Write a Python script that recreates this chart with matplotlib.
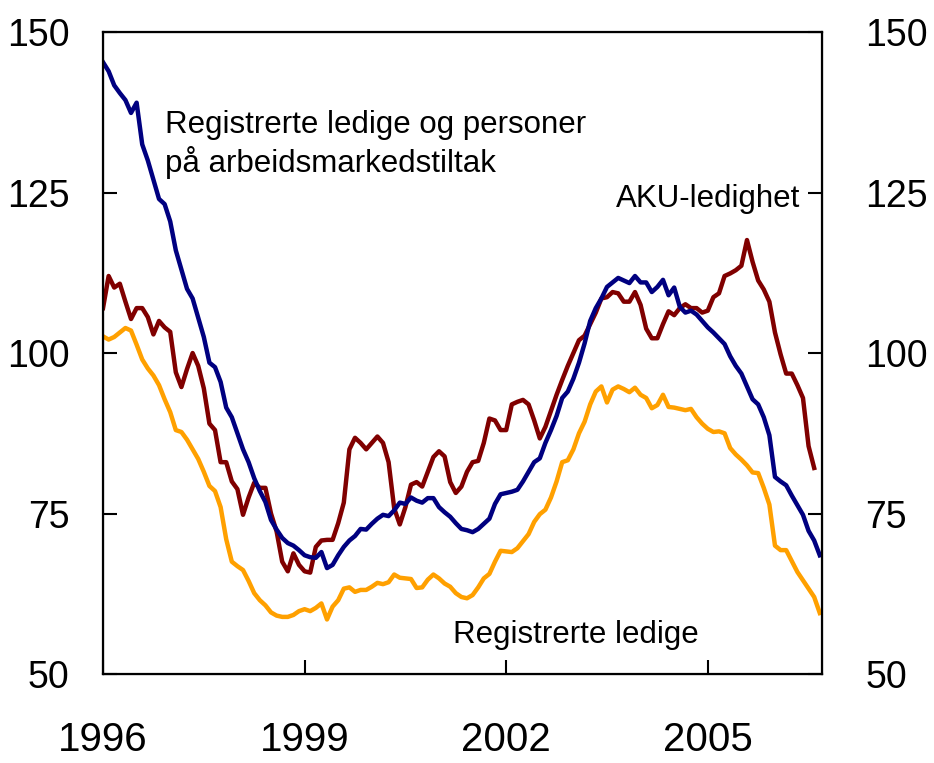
import matplotlib.pyplot as plt
import numpy as np

plt.rcParams['font.family'] = ['Liberation Sans', 'DejaVu Sans']

# monthly index values, Jan 1996 onwards
tiltak = [145.3, 143.9, 141.7, 140.5, 139.4, 137.4, 139.0, 132.5, 130.0, 127.0,
          124.0, 123.2, 120.5, 116.0, 113.0, 110.0, 108.5, 105.5, 102.5, 98.5,
          97.8, 95.5, 91.5, 90.0, 87.5, 85.0, 83.0, 80.5, 78.5, 76.8,
          74.0, 72.5, 71.2, 70.4, 70.0, 69.3, 68.5, 68.2, 68.1, 69.0,
          66.5, 67.0, 68.5, 69.8, 70.8, 71.5, 72.6, 72.5, 73.4, 74.2,
          74.8, 74.6, 75.5, 76.7, 76.5, 77.5, 77.0, 76.7, 77.4, 77.4,
          76.0, 75.2, 74.5, 73.5, 72.6, 72.4, 72.1, 72.6, 73.4, 74.2,
          76.5, 78.0, 78.2, 78.4, 78.7, 80.0, 81.5, 83.0, 83.6, 86.0,
          88.0, 90.2, 93.0, 94.0, 96.0, 98.5, 101.5, 105.0, 107.0, 108.5,
          110.3, 111.0, 111.7, 111.3, 110.9, 112.0, 111.0, 111.0, 109.5, 110.3,
          111.4, 109.0, 110.2, 107.2, 106.3, 106.6, 106.0, 105.0, 104.0, 103.2,
          102.3, 101.4, 99.5, 98.0, 96.8, 94.8, 92.8, 92.0, 90.0, 87.2,
          80.7, 80.0, 79.4, 77.8, 76.3, 74.8, 72.3, 70.8, 68.5]

aku = [107.0, 112.0, 110.2, 110.8, 108.0, 105.3, 107.0, 107.0, 105.6, 102.9,
       105.0, 104.0, 103.3, 97.0, 94.7, 97.5, 100.0, 98.0, 94.5, 89.0,
       88.0, 83.0, 83.0, 80.0, 78.8, 74.8, 77.5, 79.8, 79.0, 79.0,
       75.0, 72.2, 67.5, 66.0, 68.8, 67.0, 66.0, 65.8, 69.8, 70.8,
       70.9, 70.9, 73.5, 76.7, 85.0, 86.8, 86.0, 85.0, 86.0, 87.0,
       86.0, 83.0, 75.8, 73.3, 76.0, 79.5, 79.9, 79.2, 81.5, 83.8,
       84.7, 83.9, 79.9, 78.2, 79.2, 81.5, 83.0, 83.2, 86.0, 89.8,
       89.5, 88.0, 88.0, 92.0, 92.4, 92.7, 92.0, 89.5, 86.7, 88.5,
       91.0, 93.5, 95.8, 98.0, 100.0, 102.0, 102.7, 104.5, 106.3, 108.5,
       108.7, 109.5, 109.3, 108.0, 108.0, 109.5, 107.5, 103.8, 102.3, 102.3,
       104.5, 106.5, 105.9, 107.0, 107.6, 107.0, 107.0, 106.3, 106.6, 108.7,
       109.3, 112.0, 112.4, 112.9, 113.6, 117.6, 114.2, 111.3, 109.9, 108.0,
       103.2, 99.8, 96.8, 96.8, 95.0, 93.0, 85.5, 82.1]

ledige = [102.6, 102.1, 102.5, 103.2, 103.9, 103.5, 101.3, 99.0, 97.6, 96.5,
          95.0, 92.8, 90.8, 88.0, 87.7, 86.5, 85.0, 83.5, 81.5, 79.3,
          78.5, 76.0, 71.0, 67.5, 66.8, 66.2, 64.5, 62.6, 61.5, 60.7,
          59.6, 59.1, 58.9, 58.9, 59.2, 59.8, 60.1, 59.8, 60.3, 61.0,
          58.5, 60.5, 61.5, 63.3, 63.5, 62.8, 63.1, 63.1, 63.6, 64.2,
          64.0, 64.3, 65.5, 65.0, 64.9, 64.8, 63.4, 63.5, 64.7, 65.5,
          64.9, 64.1, 63.6, 62.6, 62.0, 61.8, 62.3, 63.5, 64.9, 65.6,
          67.5, 69.2, 69.1, 69.0, 69.6, 70.7, 71.8, 73.7, 74.9, 75.6,
          77.5, 80.0, 83.0, 83.3, 85.0, 87.5, 89.3, 92.0, 94.0, 94.8,
          92.3, 94.3, 94.8, 94.4, 93.9, 94.6, 93.5, 93.0, 91.4, 91.9,
          93.5, 91.6, 91.5, 91.3, 91.1, 91.3, 90.0, 89.0, 88.2, 87.7,
          87.8, 87.5, 85.2, 84.2, 83.4, 82.5, 81.4, 81.3, 79.0, 76.4,
          70.0, 69.3, 69.3, 67.6, 65.9, 64.6, 63.3, 62.0, 59.5]

xticks = [1996, 1999, 2002, 2005]
yticks = [50, 75, 100, 125, 150]

t1 = 1996 + np.arange(len(tiltak)) / 12.0
t2 = 1996 + np.arange(len(aku)) / 12.0
t3 = 1996 + np.arange(len(ledige)) / 12.0

fig = plt.figure(figsize=(9.34, 7.63), dpi=100)
ax = fig.add_axes([0.1103, 0.1166, 0.7698, 0.8414])

lw = 3.2
ax.plot(t3, ledige, color='#FFA000', lw=lw)
ax.plot(t2, aku, color='#800000', lw=lw)
ax.plot(t1, tiltak, color='#000080', lw=lw)

ax.set_xlim(1996, 2006.70)
ax.set_ylim(50, 150)
ax.set_xticks(xticks)
ax.set_yticks(yticks)

for s in ax.spines.values():
    s.set_linewidth(1.6)

ax.tick_params(axis='y', direction='in', length=10, width=1.5, labelsize=27, pad=24)
ax.tick_params(axis='x', direction='in', length=10, width=1.5, labelsize=29, pad=34)

# right side labels
ax2 = ax.twinx()
ax2.set_ylim(50, 150)
ax2.set_yticks(yticks)
ax2.tick_params(axis='y', direction='in', length=10, width=1.5, labelsize=27, pad=31)

ax.text(1996.92, 134.3, 'Registrerte ledige og personer', fontsize=22.5, va='baseline')
ax.text(1996.92, 128.2, 'på arbeidsmarkedstiltak', fontsize=22.5, va='baseline')
ax.text(2003.64, 122.7, 'AKU-ledighet', fontsize=22.5, va='baseline')
ax.text(2001.21, 54.8, 'Registrerte ledige', fontsize=22.5, va='baseline')

fig.savefig('out.png', dpi=100)
